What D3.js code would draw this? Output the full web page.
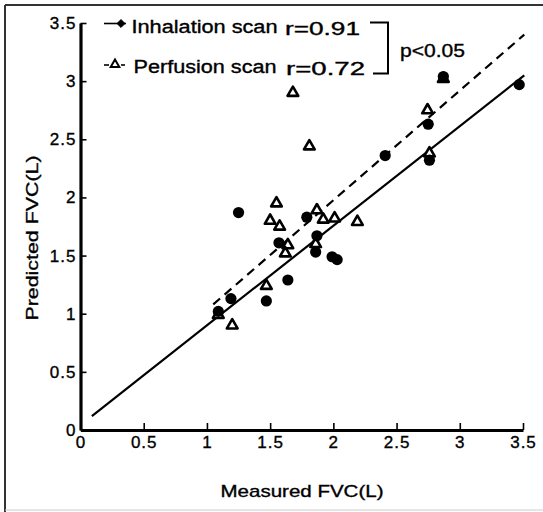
<!DOCTYPE html>
<html>
<head>
<meta charset="utf-8">
<script src="https://cdn.jsdelivr.net/npm/d3@7"></script>
<style>
  body { margin: 0; background: #fff; }
  svg { display: block; font-family: "Liberation Sans", Arial, Helvetica, sans-serif; }
  text { stroke: #000; stroke-width: 0.35px; }
</style>
</head>
<body>
<svg width="543" height="512"></svg>
<script>
// measured vs predicted FVC (L)
let inhalation = [
    [1.25, 1.87], [1.19, 1.13], [1.09, 1.02], [1.47, 1.11], [1.57, 1.61],
    [1.64, 1.29], [1.79, 1.83], [1.87, 1.67], [1.86, 1.53], [1.99, 1.49],
    [2.03, 1.465], [2.87, 3.04], [2.75, 2.63], [2.41, 2.36], [2.76, 2.32],
    [3.47, 2.97]
];
let perfusion = [
    [1.55, 1.95], [1.50, 1.80], [1.575, 1.75], [1.64, 1.59], [1.62, 1.52],
    [1.87, 1.89], [1.92, 1.81], [2.01, 1.82], [2.19, 1.79], [1.86, 1.60],
    [1.47, 1.24], [1.09, 0.99], [1.20, 0.90], [1.68, 2.90], [1.81, 2.44],
    [2.745, 2.75], [2.76, 2.38], [2.87, 3.02]
];
// regression lines (end points)
let inhalationFit = [[0.09, 0.12], [3.51, 3.05]];
let perfusionFit = [[1.05, 1.08], [3.51, 3.40]];

let ticks = [0, 0.5, 1, 1.5, 2, 2.5, 3, 3.5];
let xTitle = "Measured FVC(L)";
let yTitle = "Predicted FVC(L)";
let legendNames = ["Inhalation scan", "Perfusion scan"];
let legendR = ["r=0.91", "r=0.72"];
let pText = "p<0.05";

let svg = d3.select("svg");

// scanned page frame
svg.append("line").attr("x1", 5).attr("x2", 543).attr("y1", 5).attr("y2", 5)
    .attr("stroke", "#333").attr("stroke-width", 2);
svg.append("line").attr("x1", 5).attr("x2", 5).attr("y1", 5).attr("y2", 512)
    .attr("stroke", "#333").attr("stroke-width", 2);
svg.append("line").attr("x1", 5).attr("x2", 543).attr("y1", 510).attr("y2", 510)
    .attr("stroke", "#ccc").attr("stroke-width", 1);

let x = d3.scaleLinear().domain([0, 3.5]).range([80.5, 523]);
let y = d3.scaleLinear().domain([0, 3.5]).range([430, 23]);

let fmt = d => d === 0 ? "0" : String(d);

// axes
let xAxis = svg.append("g").attr("transform", "translate(0,430)")
    .call(d3.axisBottom(x).tickValues(ticks).tickFormat(fmt).tickSize(-7).tickSizeOuter(0).tickPadding(6));
let yAxis = svg.append("g").attr("transform", "translate(80.5,0)")
    .call(d3.axisLeft(y).tickValues(ticks).tickFormat(fmt).tickSize(-6).tickSizeOuter(0).tickPadding(4));

[xAxis, yAxis].forEach(a => {
    a.select(".domain").attr("stroke", "#000").attr("stroke-width", 3.2);
    a.selectAll(".tick line").attr("stroke", "#000").attr("stroke-width", 1.6);
    a.selectAll(".tick text").attr("fill", "#000").style("font-size", "17px")
        .style("letter-spacing", "1px").style("font-family", "inherit");
});

svg.append("text").attr("x", 302).attr("y", 497).attr("text-anchor", "middle")
    .attr("textLength", 163).attr("lengthAdjust", "spacingAndGlyphs")
    .style("font-size", "17px").text(xTitle);
svg.append("text").attr("transform", "translate(32,238) rotate(-90)")
    .attr("text-anchor", "middle").attr("dy", "0.35em")
    .attr("textLength", 165).attr("lengthAdjust", "spacingAndGlyphs")
    .style("font-size", "17px").text(yTitle);

// regression lines
let line = d3.line().x(d => x(d[0])).y(d => y(d[1]));
svg.append("path").datum(inhalationFit).attr("d", line)
    .attr("fill", "none").attr("stroke", "#000").attr("stroke-width", 2.2);
svg.append("path").datum(perfusionFit).attr("d", line)
    .attr("fill", "none").attr("stroke", "#000").attr("stroke-width", 2.2)
    .attr("stroke-dasharray", "9,6");

// points
let tri = d3.symbol().type(d3.symbolTriangle).size(50);
svg.append("g").selectAll("path").data(perfusion).join("path")
    .attr("d", tri)
    .attr("transform", d => `translate(${x(d[0])},${y(d[1])})`)
    .attr("fill", "#fff").attr("stroke", "#000").attr("stroke-width", 2.6)
    .attr("stroke-linejoin", "round");
svg.append("g").selectAll("circle").data(inhalation).join("circle")
    .attr("cx", d => x(d[0])).attr("cy", d => y(d[1])).attr("r", 5.6)
    .attr("fill", "#000");

// legend
let leg = svg.append("g");
leg.append("line").attr("x1", 104).attr("x2", 126).attr("y1", 23.5).attr("y2", 23.5)
    .attr("stroke", "#000").attr("stroke-width", 1.6);
leg.append("path").attr("d", d3.symbol().type(d3.symbolDiamond2).size(40))
    .attr("transform", "translate(121,23.5)").attr("fill", "#000")
    .attr("stroke", "#000").attr("stroke-width", 1).attr("stroke-linejoin", "round");
leg.append("line").attr("x1", 104).attr("x2", 109).attr("y1", 65).attr("y2", 65)
    .attr("stroke", "#000").attr("stroke-width", 1.6);
leg.append("line").attr("x1", 121).attr("x2", 125).attr("y1", 65).attr("y2", 65)
    .attr("stroke", "#000").attr("stroke-width", 1.6);
leg.append("path").attr("d", d3.symbol().type(d3.symbolTriangle).size(32))
    .attr("transform", "translate(115,64.5)").attr("fill", "#fff")
    .attr("stroke", "#000").attr("stroke-width", 2);

let legText = [
    { t: legendNames[0], x: 131.5, y: 33, w: 146 },
    { t: legendNames[1], x: 133.5, y: 73, w: 143 },
    { t: legendR[0], x: 285, y: 35, w: 75 },
    { t: legendR[1], x: 286, y: 75, w: 79 },
    { t: pText, x: 400, y: 56.5, w: 65 }
];
leg.selectAll("text").data(legText).join("text")
    .attr("x", d => d.x).attr("y", d => d.y)
    .attr("textLength", d => d.w).attr("lengthAdjust", "spacingAndGlyphs")
    .style("font-size", "18px").text(d => d.t);

leg.append("path").attr("d", "M370,22.5H388V73.5H373")
    .attr("fill", "none").attr("stroke", "#000").attr("stroke-width", 2);
</script>
</body>
</html>
